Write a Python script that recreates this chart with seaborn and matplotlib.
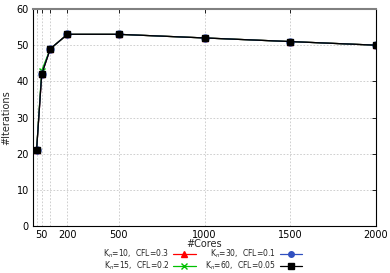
import matplotlib
matplotlib.use("Agg")
import matplotlib.pyplot as plt
import pandas as pd
import seaborn as sns

cores = [20, 50, 100, 200, 500, 1000, 1500, 2000]
iters_kn10 = [21, 42, 49, 53, 53, 52, 51, 50]
iters_kn15 = [21, 43, 49, 53, 53, 52, 51, 50]
iters_kn30 = [21, 42, 49, 53, 53, 52, 51, 50]
iters_kn60 = [21, 42, 49, 53, 53, 52, 51, 50]

labels = [r"K$_n$=10,  CFL=0.3", r"K$_n$=15,  CFL=0.2",
          r"K$_n$=30,  CFL=0.1", r"K$_n$=60,  CFL=0.05"]
colors = ["#ff0000", "#00c000", "#3050c0", "#000000"]
markers = ["^", "x", "o", "s"]

tick_pos = [20, 50, 100, 200, 500, 1000, 1500, 2000]
tick_lab = ["", "50", "", "200", "500", "1000", "1500", "2000"]


def main() -> None:
    sns.set_theme(style="white")
    plt.rcParams.update({
        "font.family": ["DejaVu Sans"],
        "font.size": 7,
        "xtick.labelsize": 7,
        "ytick.labelsize": 7,
        "axes.labelsize": 7,
        "mathtext.fontset": "dejavusans",
    })

    rows = []
    for lab, ys in zip(labels, [iters_kn10, iters_kn15, iters_kn30, iters_kn60]):
        for x, y in zip(cores, ys):
            rows.append({"cores": x, "iters": y, "series": lab})
    df = pd.DataFrame(rows)

    fig = plt.figure(figsize=(3.9, 2.73), dpi=100)
    ax = fig.add_axes([0.085, 0.172, 0.879, 0.795])

    for lab, col, mk in zip(labels, colors, markers):
        sub = df[df["series"] == lab]
        sns.lineplot(data=sub, x="cores", y="iters", ax=ax, color=col, marker=mk,
                     markersize=5, linewidth=0.9, markeredgecolor=col,
                     markeredgewidth=1, label=lab, legend=False)

    ax.set_xlim(0, 2000)
    ax.set_ylim(0, 60)
    ax.set_xticks(tick_pos)
    ax.set_xticklabels(tick_lab)
    ax.set_yticks(range(0, 61, 10))
    ax.grid(True, color="#c8c8c8", linestyle=(0, (2, 2)), linewidth=0.6)
    ax.tick_params(direction="in", length=3, top=True, right=True, pad=3,
                   colors="black", width=0.6)
    ax.tick_params(axis="x", pad=2.5)
    for s in ax.spines.values():
        s.set_color("black")
        s.set_linewidth(0.8)
    ax.spines["top"].set_color("#808080")
    ax.spines["top"].set_linewidth(1.5)
    ax.set_xlabel("#Cores", labelpad=-0.5)
    ax.set_ylabel("#Iterations", labelpad=4)

    handles, _ = ax.get_legend_handles_labels()
    fig.legend(handles, labels, loc="lower center", bbox_to_anchor=(0.52, -0.012),
               ncol=2, frameon=False, markerfirst=False, fontsize=5.5,
               handlelength=3, columnspacing=1.2, labelspacing=0.0,
               handletextpad=0.5, borderpad=0.0, markerscale=0.8)

    fig.savefig("out.png", dpi=100)
    plt.close(fig)


if __name__ == "__main__":
    main()
